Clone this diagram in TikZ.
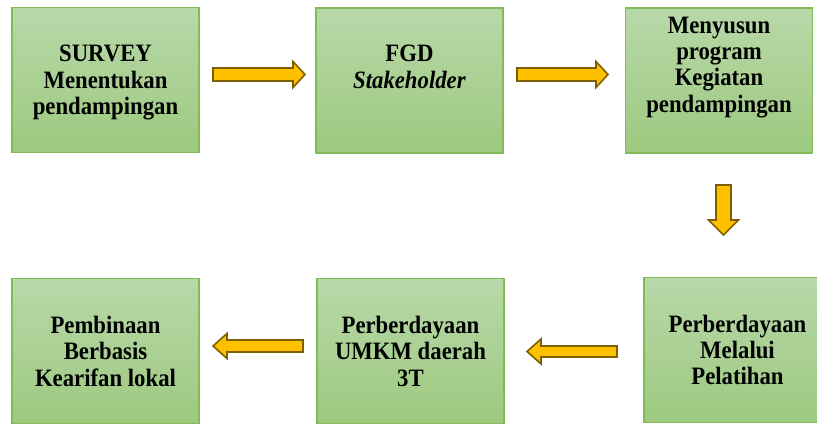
\documentclass[tikz,border=0pt]{standalone}
\usepackage{fontspec}
\setmainfont{Liberation Serif}[FakeStretch=0.91]
\definecolor{boxtop}{RGB}{184,216,169}
\definecolor{boxbot}{RGB}{157,201,127}
\definecolor{boxline}{RGB}{128,188,88}
\definecolor{arrfill}{RGB}{255,192,0}
\definecolor{arrline}{RGB}{127,96,0}
\tikzset{
  greenbox/.style={draw=boxline, line width=1.3pt, top color=boxtop, bottom color=boxbot,
    minimum width=187pt, minimum height=145pt, inner sep=0pt},
  boxtext/.style={align=center, font=\fontsize{25}{26.4}\selectfont\bfseries, inner sep=0pt},
  barrow/.style={draw=arrline, fill=arrfill, line width=1.6pt, line join=miter},
}
% #1,#2 tail centre; #3 length; #4 angle; #5 shaft half width; #6 head half width; #7 head length
\newcommand\blockarr[7]{%
  \draw[barrow, shift={(#1,#2)}, rotate=#4]
    (0,-#5) -- (#3-#7,-#5) -- (#3-#7,-#6) -- (#3,0) -- (#3-#7,#6) -- (#3-#7,#5) -- (0,#5) -- cycle;}
\begin{document}
\begin{tikzpicture}[x=1pt,y=-1pt]
\useasboundingbox (0,0) rectangle (817,430);
\clip (0,0) rectangle (817,430);
% boxes
\node[greenbox] (b1) at (105.5,80) {};
\node[greenbox] (b2) at (409.5,80.5) {};
\node[greenbox] (b3) at (719,80.5) {};
\node[greenbox] (b4) at (737.5,350) {};
\node[greenbox] (b5) at (410.5,351) {};
\node[greenbox] (b6) at (105.5,351) {};
% texts
\node[boxtext] (t1) at (105.5,82.7) {SURVEY\\Menentukan\\pendampingan};
\node[boxtext] (t2) at (409.5,66.7) {FGD\\\textit{Stakeholder}};
\node[boxtext] (t3) at (719,67.2) {Menyusun\\program\\Kegiatan\\pendampingan};
\node[boxtext] (t4) at (737.5,350) {Perberdayaan\\Melalui\\Pelatihan};
\node[boxtext] (t5) at (410.5,351.4) {Perberdayaan\\UMKM daerah\\3T};
\node[boxtext] (t6) at (105.5,351.4) {Pembinaan\\Berbasis\\Kearifan lokal};
% block arrows
\blockarr{213}{74.5}{92}{0}{6.5}{13}{12}
\blockarr{517}{74.5}{91}{0}{6.5}{13}{12}
\blockarr{723.5}{185}{50}{-90}{7.5}{15}{15}
\blockarr{617}{351.5}{90}{180}{5.5}{12.5}{14}
\blockarr{303}{346}{90}{180}{6}{12.5}{14}
\end{tikzpicture}
\end{document}
